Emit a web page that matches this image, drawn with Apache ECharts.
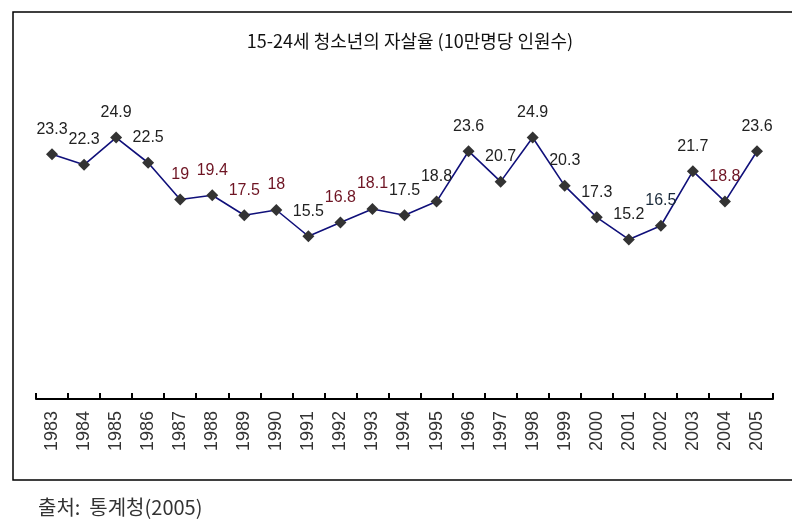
<!DOCTYPE html>
<html><head><meta charset="utf-8">
<script src="https://cdn.jsdelivr.net/npm/echarts@6/dist/echarts.min.js"></script>
<style>html,body{margin:0;padding:0;background:#fff}#c{width:811px;height:526px}</style>
</head><body><div id="c"></div>
<script>
const years = ['1983','1984','1985','1986','1987','1988','1989','1990','1991','1992','1993','1994','1995','1996','1997','1998','1999','2000','2001','2002','2003','2004','2005'];
const rates = [23.3,22.3,24.9,22.5,19,19.4,17.5,18,15.5,16.8,18.1,17.5,18.8,23.6,20.7,24.9,20.3,17.3,15.2,16.5,21.7,18.8,23.6];
const labelColors = ['#222','#222','#222','#222','#6e1423','#6e1423','#6e1423','#6e1423','#222','#6e1423','#6e1423','#222','#222','#222','#222','#222','#222','#222','#222','#1a2a3a','#222','#6e1423','#222'];
const titleText = '15-24세 청소년의 자살율 (10만명당 인원수)';
const sourceText = '출처:  통계청(2005)';

const chart = echarts.init(document.getElementById('c'), null, {renderer:'canvas'});
chart.setOption({
  animation:false,
  backgroundColor:'#fff',
  title:{text:titleText,left:405,top:27,textAlign:'center',
    textStyle:{fontFamily:'Noto Sans CJK KR',fontSize:18,fontWeight:'normal',color:'#111'}},
  grid:{left:36,right:38,top:84,bottom:127},
  xAxis:{type:'category',data:years,boundaryGap:true,
    axisLine:{show:true,lineStyle:{color:'#000',width:2}},
    axisTick:{show:true,inside:true,length:6,interval:0,alignWithLabel:false,lineStyle:{color:'#000',width:2}},
    axisLabel:{interval:0,rotate:90,fontSize:18,color:'#333',fontFamily:'Liberation Sans',margin:12}},
  yAxis:{type:'value',min:0,max:30,show:false,splitLine:{show:false}},
  series:[{type:'line',data:rates.map((v,i)=>({value:v,label:{color:labelColors[i]}})),
    symbol:'diamond',symbolSize:12,
    lineStyle:{color:'#10107a',width:1.6},
    itemStyle:{color:'#333'},
    label:{show:true,position:'top',distance:11,fontSize:16,fontFamily:'Liberation Sans',color:'#222'}}],
  graphic:[
    {type:'polyline',shape:{points:[[792,12],[13,12],[13,480],[792,480]]},style:{stroke:'#000',lineWidth:1.5,fill:null}},
    {type:'text',left:38,top:497,style:{text:sourceText,font:'20px "Noto Sans CJK KR"',fill:'#333'}}
  ]
});
</script></body></html>
